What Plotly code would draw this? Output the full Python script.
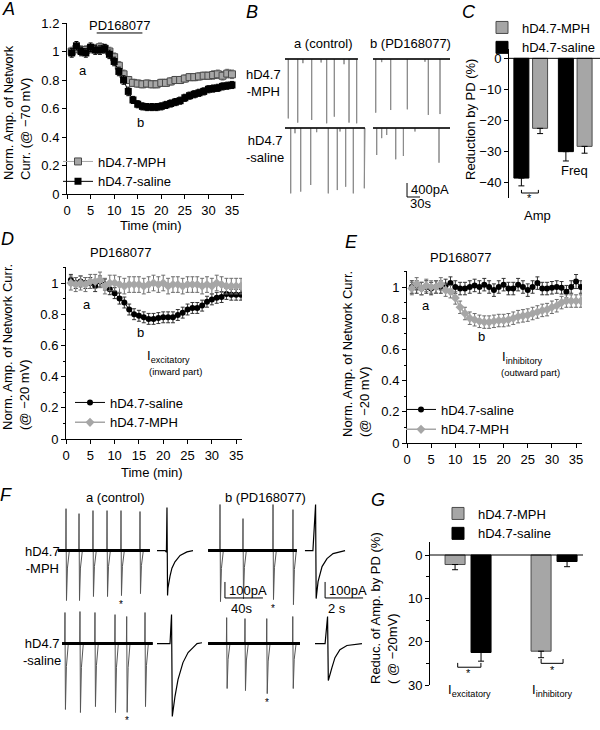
import plotly.graph_objects as go

W, H = 600, 730
FONT = "Liberation Sans, Arial, Helvetica, sans-serif"
BLK = "#000000"
GRY = "#a6a6a6"
GRY_EDGE = "#4a4a4a"
GRY_ERR = "#6e6e6e"
SPK = "#8a8a8a"

# ---------------- data ----------------
# Panel A (holding -70 mV)
A_TIME = list(range(1, 36))
A_MPH = [1.00, 1.02, 1.01, 1.01, 1.02, 1.02, 1.03, 1.02, 1.00, 0.96,
         0.90, 0.84, 0.80, 0.78, 0.775, 0.77, 0.775, 0.77, 0.77, 0.78,
         0.78, 0.79, 0.80, 0.80, 0.81, 0.82, 0.82, 0.825, 0.83, 0.83,
         0.835, 0.84, 0.83, 0.845, 0.84]
A_MPH_ERR = [0.03, 0.03, 0.03, 0.03, 0.03, 0.03, 0.03, 0.03, 0.03, 0.03,
             0.03, 0.03, 0.025, 0.025, 0.025, 0.025, 0.025, 0.025, 0.025, 0.025,
             0.025, 0.025, 0.025, 0.025, 0.025, 0.025, 0.025, 0.025, 0.025, 0.025,
             0.03, 0.03, 0.03, 0.03, 0.03]
A_SAL = [0.99, 1.04, 1.00, 0.99, 1.03, 1.01, 1.01, 1.02, 0.98, 0.93,
         0.86, 0.80, 0.72, 0.66, 0.63, 0.615, 0.61, 0.61, 0.61, 0.615,
         0.625, 0.635, 0.645, 0.655, 0.675, 0.69, 0.70, 0.71, 0.72, 0.735,
         0.74, 0.745, 0.755, 0.76, 0.765]
A_SAL_ERR = [0.03, 0.03, 0.03, 0.03, 0.03, 0.03, 0.03, 0.03, 0.03, 0.03,
             0.03, 0.03, 0.03, 0.025, 0.025, 0.025, 0.025, 0.025, 0.025, 0.025,
             0.025, 0.025, 0.025, 0.025, 0.025, 0.025, 0.025, 0.025, 0.025, 0.025,
             0.025, 0.025, 0.025, 0.025, 0.025]

# Panel D (excitatory, -20 mV)
D_TIME = list(range(1, 37))
D_SAL = [1.02, 1.00, 1.01, 1.00, 1.00, 0.98, 1.01, 0.99, 0.96, 0.935,
         0.90, 0.875, 0.83, 0.80, 0.79, 0.78, 0.77, 0.77, 0.775, 0.78,
         0.78, 0.78, 0.795, 0.81, 0.83, 0.84, 0.84, 0.855, 0.88, 0.895,
         0.905, 0.91, 0.93, 0.925, 0.925, 0.925]
D_SAL_ERR = [0.035, 0.035, 0.035, 0.035, 0.035, 0.035, 0.035, 0.035, 0.035, 0.035,
             0.035, 0.035, 0.035, 0.035, 0.035, 0.035, 0.035, 0.035, 0.035, 0.035,
             0.035, 0.035, 0.035, 0.035, 0.035, 0.035, 0.035, 0.035, 0.035, 0.035,
             0.035, 0.035, 0.035, 0.035, 0.035, 0.035]
D_MPH = [1.00, 0.99, 1.00, 0.99, 1.01, 1.01, 1.02, 0.98, 1.00, 1.00,
         0.99, 0.98, 0.99, 0.99, 0.99, 0.98, 0.99, 1.00, 0.99, 1.00,
         0.98, 0.99, 0.99, 0.98, 0.99, 0.99, 0.99, 0.98, 0.99, 0.98,
         1.00, 0.99, 0.98, 0.98, 0.98, 0.98]
D_MPH_ERR = [0.045, 0.045, 0.045, 0.045, 0.045, 0.045, 0.05, 0.05, 0.05, 0.05,
             0.05, 0.05, 0.05, 0.05, 0.05, 0.05, 0.05, 0.05, 0.05, 0.05,
             0.05, 0.05, 0.05, 0.05, 0.05, 0.05, 0.05, 0.05, 0.05, 0.05,
             0.05, 0.05, 0.05, 0.05, 0.05, 0.05]

# Panel E (inhibitory, -20 mV)
E_TIME = list(range(1, 37))
E_SAL = [1.00, 1.00, 0.99, 1.00, 0.99, 1.00, 1.00, 1.01, 1.025, 1.00,
         0.99, 0.99, 1.00, 1.01, 1.00, 1.015, 1.00, 0.98, 1.00, 1.015,
         0.99, 0.99, 1.015, 1.00, 0.98, 1.00, 1.025, 0.99, 0.99, 0.995,
         1.00, 0.995, 0.97, 1.00, 1.035, 1.00]
E_SAL_ERR = [0.04, 0.04, 0.04, 0.04, 0.04, 0.04, 0.04, 0.04, 0.04, 0.04,
             0.04, 0.04, 0.04, 0.04, 0.04, 0.04, 0.04, 0.04, 0.04, 0.04,
             0.04, 0.04, 0.04, 0.04, 0.04, 0.04, 0.04, 0.04, 0.04, 0.04,
             0.04, 0.04, 0.04, 0.04, 0.045, 0.04]
E_MPH = [0.99, 1.02, 0.99, 1.01, 1.00, 1.00, 1.02, 0.98, 0.97, 0.93,
         0.87, 0.83, 0.80, 0.79, 0.78, 0.775, 0.775, 0.78, 0.785, 0.785,
         0.79, 0.80, 0.81, 0.815, 0.82, 0.83, 0.84, 0.85, 0.855, 0.87,
         0.88, 0.90, 0.91, 0.91, 0.91, 0.91]
E_MPH_ERR = [0.04, 0.04, 0.04, 0.04, 0.04, 0.04, 0.04, 0.04, 0.04, 0.04,
             0.04, 0.04, 0.04, 0.04, 0.04, 0.04, 0.04, 0.04, 0.04, 0.04,
             0.04, 0.04, 0.04, 0.04, 0.04, 0.04, 0.04, 0.04, 0.04, 0.04,
             0.04, 0.04, 0.04, 0.04, 0.04, 0.04]

DRUG_ON, DRUG_OFF = 6.3, 16.0

# Panel C (reduction by PD, %)
C_GROUPS = [1, 2]
C_SAL = [-38.5, -30.0]
C_SAL_ERR = [2.5, 3.0]
C_MPH = [-22.5, -28.3]
C_MPH_ERR = [1.7, 2.2]

# Panel G (reduction of amplitude by PD, %)
G_GROUPS = [1, 2]
G_MPH = [2.2, 22.2]
G_MPH_ERR = [1.2, 1.5]
G_SAL = [22.5, 1.5]
G_SAL_ERR = [2.0, 1.2]

# Panel B traces (time s, amplitude pA of inward events)
B_A_MPH_T = [12.2, 34.0, 46.0, 66.3, 88.0, 100.9, 118.5, 141.0, 152.5, 170.2]
B_A_MPH_I = [-1700, -1820, -120, -1745, -100, -1840, -1650, -150, -1820, -1840]
B_B_MPH_T = [10.9, 24.7, 45.5, 83.9, 124.7, 132.4, 159.4]
B_B_MPH_I = [-1535, -90, -1460, -1440, -80, -1600, -1575]
B_A_SAL_T = [17.8, 27.7, 40.9, 64.0, 77.8, 104.6, 125.4, 131.7, 144.8, 162.4, 187.8]
B_A_SAL_I = [-1870, -150, -1820, -1630, -120, -1870, -1775, -100, -1680, -1870, -1725]
B_B_SAL_T = [13.2, 24.7, 36.3, 57.1, 74.8, 101.6, 157.1]
B_B_SAL_I = [-772, -290, -200, -895, -800, -100, -992]

# Panel F compressed traces (time s, outward / inward peaks pA)
F_A_MPH_T = [11.6, 25.3, 40.0, 54.8, 69.5, 89.5]
F_A_MPH_UP = [262, 231, 250, 250, 250, 244]
F_A_MPH_DN = [-312, -312, -287, -287, -281, -269]
F_B_MPH_T = [15.8, 40.0, 71.6, 92.6]
F_B_MPH_UP = [288, 200, 288, 256]
F_B_MPH_DN = [-319, -300, -306, -338]
F_A_SAL_T = [10.5, 26.3, 42.1, 63.2, 75.5, 94.8]
F_A_SAL_UP = [194, 200, 194, 181, 169, 194]
F_A_SAL_DN = [-412, -431, -394, -431, -430, -394]
F_B_SAL_T = [22.8, 42.1, 65.0, 92.4]
F_B_SAL_UP = [162, 156, 156, 169]
F_B_SAL_DN = [-281, -294, -313, -281]

# Panel F expanded single events (time s, pA relative to baseline)
FX_A_MPH_T = [0.105, 0.53, 0.60, 0.63, 0.66, 0.68, 0.79, 0.89, 1.05, 1.32, 1.68, 2.00]
FX_A_MPH_I = [0, 0, -10, 270, -280, -235, -160, -110, -70, -30, -8, 0]
FX_A_SAL_T = [0.105, 0.79, 0.87, 0.91, 1.05, 1.21, 1.47, 1.74, 2.00, 2.21, 2.47]
FX_A_SAL_I = [0, 0, 181, -456, -331, -225, -119, -56, -25, 0, 5]
FX_B_MPH_T = [0.26, 0.68, 0.82, 0.85, 0.95, 1.16, 1.42, 1.74, 2.37]
FX_B_MPH_I = [0, 0, 288, -300, -194, -100, -50, -19, 0]
FX_B_SAL_T = [0.79, 1.32, 1.45, 1.49, 1.68, 1.84, 2.10, 2.47, 3.26]
FX_B_SAL_I = [0, 0, 169, -231, -150, -88, -38, -12, 0]

B_SCALE_PA, B_SCALE_S = 400, 30
F_SCALE_PA, F_SCALE_S, F_SCALE_S_EXP = 100, 40, 2


# ---------------- helpers ----------------
def X(p):
    return p / W


def Y(p):
    return 1 - p / H


def style_axis(**kw):
    base = dict(showline=True, linecolor=BLK, linewidth=1, ticks="outside", ticklen=4,
                tickwidth=1, tickcolor=BLK, showgrid=False, zeroline=False,
                tickfont=dict(size=13, color=BLK, family=FONT), fixedrange=True)
    base.update(kw)
    return base


def hidden_axis(**kw):
    base = dict(visible=False, showgrid=False, zeroline=False, fixedrange=True)
    base.update(kw)
    return base


def spike_train(start, end, times, amps, base):
    xs, ys = [start], [base]
    for t, a in zip(times, amps):
        xs += [t, t, t]
        ys += [base, base + a, base]
    xs.append(end)
    ys.append(base)
    return xs, ys


def biphasic_train(start, end, times, ups, dns, base):
    xs, ys = [start], [base]
    for t, u, d in zip(times, ups, dns):
        xs += [t - 0.3, t, t + 0.5, t + 1.5, t + 3.5]
        ys += [base, base + u, base + d, base + 0.35 * d, base]
    xs.append(end)
    ys.append(base)
    return xs, ys


fig = go.Figure()


def line(xs, ys, xa, ya, color=BLK, width=1):
    fig.add_trace(go.Scatter(x=xs, y=ys, mode="lines", line=dict(color=color, width=width),
                             xaxis=xa, yaxis=ya, showlegend=False, hoverinfo="skip"))


# ---------------- Panel A ----------------
fig.add_trace(go.Scatter(
    x=A_TIME, y=A_MPH, name="hD4.7-MPH", mode="lines+markers", legend="legend",
    line=dict(color=GRY, width=1),
    marker=dict(symbol="square", size=7, color=GRY, line=dict(color=GRY_EDGE, width=1)),
    error_y=dict(type="data", array=A_MPH_ERR, color=GRY_ERR, thickness=1, width=2),
    xaxis="x", yaxis="y"))
fig.add_trace(go.Scatter(
    x=A_TIME, y=A_SAL, name="hD4.7-saline", mode="lines+markers", legend="legend",
    line=dict(color=BLK, width=1),
    marker=dict(symbol="square", size=7, color=BLK),
    error_y=dict(type="data", array=A_SAL_ERR, color=BLK, thickness=1, width=2),
    xaxis="x", yaxis="y"))

# ---------------- Panel D ----------------
fig.add_trace(go.Scatter(
    x=D_TIME, y=D_SAL, name="hD4.7-saline", mode="lines+markers", legend="legend2",
    line=dict(color=BLK, width=1), marker=dict(symbol="circle", size=6, color=BLK),
    error_y=dict(type="data", array=D_SAL_ERR, color="#333333", thickness=1, width=2),
    xaxis="x3", yaxis="y3"))
fig.add_trace(go.Scatter(
    x=D_TIME, y=D_MPH, name="hD4.7-MPH", mode="lines+markers", legend="legend2",
    line=dict(color=GRY, width=1.5), marker=dict(symbol="diamond", size=7, color=GRY),
    error_y=dict(type="data", array=D_MPH_ERR, color=GRY_ERR, thickness=1, width=2),
    xaxis="x3", yaxis="y3"))

# ---------------- Panel E ----------------
fig.add_trace(go.Scatter(
    x=E_TIME, y=E_SAL, name="hD4.7-saline", mode="lines+markers", legend="legend3",
    line=dict(color=BLK, width=1), marker=dict(symbol="circle", size=6, color=BLK),
    error_y=dict(type="data", array=E_SAL_ERR, color="#333333", thickness=1, width=2),
    xaxis="x4", yaxis="y4"))
fig.add_trace(go.Scatter(
    x=E_TIME, y=E_MPH, name="hD4.7-MPH", mode="lines+markers", legend="legend3",
    line=dict(color=GRY, width=1.5), marker=dict(symbol="diamond", size=7, color=GRY),
    error_y=dict(type="data", array=E_MPH_ERR, color=GRY_ERR, thickness=1, width=2),
    xaxis="x4", yaxis="y4"))

# ---------------- Panel C ----------------
fig.add_trace(go.Bar(
    x=C_GROUPS, y=C_MPH, name="hD4.7-MPH", legend="legend4", width=0.337, offset=0.04,
    marker=dict(color=GRY, line=dict(color=GRY_EDGE, width=1)),
    error_y=dict(type="data", symmetric=False, array=[0, 0], arrayminus=C_MPH_ERR,
                 color=BLK, thickness=1, width=3),
    xaxis="x2", yaxis="y2"))
fig.add_trace(go.Bar(
    x=C_GROUPS, y=C_SAL, name="hD4.7-saline", legend="legend4", width=0.337, offset=-0.38,
    marker=dict(color=BLK, line=dict(color=BLK, width=1)),
    error_y=dict(type="data", symmetric=False, array=[0, 0], arrayminus=C_SAL_ERR,
                 color=BLK, thickness=1, width=3),
    xaxis="x2", yaxis="y2"))
line([0.79, 0.79, 1.17, 1.17], [-42.3, -43.3, -43.3, -42.3], "x2", "y2")

# ---------------- Panel G ----------------
fig.add_trace(go.Bar(
    x=G_GROUPS, y=G_MPH, name="hD4.7-MPH", legend="legend5", width=0.233, offset=-0.267,
    marker=dict(color=GRY, line=dict(color=GRY_EDGE, width=1)),
    error_y=dict(type="data", symmetric=False, array=G_MPH_ERR, arrayminus=[0, 0],
                 color=BLK, thickness=1, width=3),
    xaxis="x5", yaxis="y5"))
fig.add_trace(go.Bar(
    x=G_GROUPS, y=G_SAL, name="hD4.7-saline", legend="legend5", width=0.233, offset=0.035,
    marker=dict(color=BLK, line=dict(color=BLK, width=1)),
    error_y=dict(type="data", symmetric=False, array=G_SAL_ERR, arrayminus=[0, 0],
                 color=BLK, thickness=1, width=3),
    xaxis="x5", yaxis="y5"))
line([0.88, 0.88, 1.15, 1.15], [24.9, 25.9, 25.9, 24.9], "x5", "y5")
line([1.85, 1.85, 2.105, 2.105], [24.0, 25.0, 25.0, 24.0], "x5", "y5")

# ---------------- Panel B traces ----------------
B_BASE_MPH, B_BASE_SAL = 4033, 2059
for xa, ya, t, i, base, s, e in [
    ("x6", "y6", B_A_MPH_T, B_A_MPH_I, B_BASE_MPH, 4.6, 173.0),
    ("x7", "y7", B_B_MPH_T, B_B_MPH_I, B_BASE_MPH, 4.6, 182.5),
    ("x6", "y6", B_A_SAL_T, B_A_SAL_I, B_BASE_SAL, 4.6, 189.5),
    ("x7", "y7", B_B_SAL_T, B_B_SAL_I, B_BASE_SAL, 4.6, 182.5),
]:
    xs, ys = spike_train(s, e, t, i, base)
    line(xs, ys, xa, ya, color=SPK, width=1)
    line([s, e], [base, base], xa, ya, color=BLK, width=1.6)
# scale bar B
BSX, BSY = 83.2, 86
line([BSX, BSX, BSX + B_SCALE_S], [BSY + B_SCALE_PA, BSY, BSY], "x7", "y7", width=1)

# ---------------- Panel F traces ----------------
F_BASE_MPH, F_BASE_SAL = 1090, 509
for xa, ya, t, u, d, base, s, e in [
    ("x8", "y8", F_A_MPH_T, F_A_MPH_UP, F_A_MPH_DN, F_BASE_MPH, 3.2, 100.0),
    ("x10", "y10", F_B_MPH_T, F_B_MPH_UP, F_B_MPH_DN, F_BASE_MPH, 3.2, 96.8),
    ("x8", "y8", F_A_SAL_T, F_A_SAL_UP, F_A_SAL_DN, F_BASE_SAL, 7.4, 103.0),
    ("x10", "y10", F_B_SAL_T, F_B_SAL_UP, F_B_SAL_DN, F_BASE_SAL, 3.2, 102.0),
]:
    xs, ys = biphasic_train(s, e, t, u, d, base)
    line(xs, ys, xa, ya, color="#555555", width=1)
    line([s, e], [base, base], xa, ya, color=BLK, width=3)
for xa, ya, t, i, base in [
    ("x9", "y9", FX_A_MPH_T, FX_A_MPH_I, F_BASE_MPH),
    ("x9", "y9", FX_A_SAL_T, FX_A_SAL_I, F_BASE_SAL),
    ("x11", "y11", FX_B_MPH_T, FX_B_MPH_I, F_BASE_MPH),
    ("x11", "y11", FX_B_SAL_T, FX_B_SAL_I, F_BASE_SAL),
]:
    line(t, [base + v for v in i], xa, ya, color=BLK, width=1.2)
FSY = 794
line([21, 21, 21 + F_SCALE_S], [FSY + F_SCALE_PA, FSY, FSY], "x10", "y10", width=1)
line([1.32, 1.32, 1.32 + F_SCALE_S_EXP], [FSY + F_SCALE_PA, FSY, FSY], "x11", "y11", width=1)

# ---------------- annotations ----------------
ann = []


def A_(text, x, y, xref="paper", yref="paper", size=13, **kw):
    d = dict(text=text, x=x, y=y, xref=xref, yref=yref, showarrow=False,
             xanchor="center", yanchor="middle",
             font=dict(size=size, color=BLK, family=FONT))
    d.update(kw)
    ann.append(d)


def P(text, xp, yp, size=13, **kw):
    A_(text, X(xp), Y(yp), size=size, **kw)


for letter, xp, yp in [("A", 8, 9), ("B", 252, 12), ("C", 469, 12), ("D", 7, 239),
                       ("E", 351, 242), ("F", 6, 495), ("G", 378, 500)]:
    P("<i>%s</i>" % letter, xp, yp, size=18)

# A
A_("PD168077", (DRUG_ON + DRUG_OFF) / 2, 1.185, "x", "y")
A_("a", 3.4, 0.87, "x", "y")
A_("b", 15.5, 0.505, "x", "y")
P("Time (min)", 151, 225)
P("Norm. Amp. of Network<br>Curr. (@ \u221270 mV)", 17, 113, textangle=-90, align="left")
# D
A_("PD168077", (DRUG_ON + DRUG_OFF) / 2, 1.1, "x3", "y3", yshift=15)
A_("a", 4.3, 0.865, "x3", "y3")
A_("b", 15.4, 0.68, "x3", "y3")
A_("I<sub>excitatory</sub>", 16.3, 0.53, "x3", "y3", xanchor="left")
A_("(inward part)", 22.6, 0.43, "x3", "y3", size=9.5)
P("Time (min)", 152, 472)
P("Norm. Amp. of Network Curr.<br>(@ \u221220 mV)", 16, 347, textangle=-90, align="left")
# E
A_("PD168077", (DRUG_ON + DRUG_OFF) / 2, 1.1, "x4", "y4", yshift=14)
A_("a", 3.9, 0.88, "x4", "y4")
A_("b", 15.5, 0.68, "x4", "y4")
A_("I<sub>inhibitory</sub>", 19.2, 0.55, "x4", "y4", xanchor="left")
A_("(outward part)", 25.5, 0.45, "x4", "y4", size=9.5)
P("Norm. Amp. of Network Curr.<br>(@ \u221220 mV)", 356, 354, textangle=-90, align="left")
# C
A_("Freq", 1.99, -36.2, "x2", "y2")
A_("Amp", 1.14, -45, "x2", "y2", yshift=-17)
A_("*", 0.98, -44.9, "x2", "y2", size=11)
P("Reduction by PD (%)", 470, 120, textangle=-90)
# G
A_("I<sub>excitatory</sub>", 1.02, 30, "x5", "y5", yshift=-5)
A_("I<sub>inhibitory</sub>", 1.98, 30, "x5", "y5", yshift=-5)
A_("*", 1.01, 27.2, "x5", "y5", size=11)
A_("*", 1.98, 26.6, "x5", "y5", size=11)
P("Reduc. of Amp. by PD (%)<br>( @ \u221220mV)", 384, 608, textangle=-90, align="left")
# B
P("a (control)", 323, 43)
P("b (PD168077)", 410, 43)
P("hD4.7<br>-MPH", 263, 83)
P("hD4.7<br>-saline", 265, 149)
P("%dpA" % B_SCALE_PA, 409, 190, xanchor="left")
P("%ds" % B_SCALE_S, 408, 204, xanchor="left")
# F
P("a (control)", 115, 497)
P("b (PD168077)", 265, 497)
P("hD4.7<br>-MPH", 42, 560)
P("hD4.7<br>-saline", 42, 652)
P("%dpA" % F_SCALE_PA, 227, 590, xanchor="left")
P("%ds" % F_SCALE_S, 241, 608)
P("%dpA" % F_SCALE_PA, 327, 590, xanchor="left")
P("%d s" % F_SCALE_S_EXP, 337, 608)
for xa, ya, t, d, base, k in [("x8", "y8", F_A_MPH_T, F_A_MPH_DN, F_BASE_MPH, 4),
                              ("x10", "y10", F_B_MPH_T, F_B_MPH_DN, F_BASE_MPH, 2),
                              ("x8", "y8", F_A_SAL_T, F_A_SAL_DN, F_BASE_SAL, 4),
                              ("x10", "y10", F_B_SAL_T, F_B_SAL_DN, F_BASE_SAL, 2)]:
    A_("*", t[k], base + d[k], xa, ya, size=10, yanchor="top", yshift=-1)

# ---------------- shapes ----------------
shapes = []
for xa, ya, yv in [("x", "y", 1.13), ("x3", "y3", 1.135), ("x4", "y4", 1.13)]:
    shapes.append(dict(type="line", xref=xa, yref=ya, x0=DRUG_ON, x1=DRUG_OFF, y0=yv, y1=yv,
                       line=dict(color=BLK, width=1)))
shapes.append(dict(type="line", xref="x2 domain", yref="y2", x0=0, x1=1, y0=0, y1=0,
                   line=dict(color=BLK, width=1)))
shapes.append(dict(type="line", xref="x5 domain", yref="y5", x0=0, x1=1, y0=0, y1=0,
                   line=dict(color=BLK, width=1)))

legend_common = dict(yanchor="top", bgcolor="rgba(0,0,0,0)",
                     font=dict(size=13, color=BLK, family=FONT), itemwidth=30,
                     tracegroupgap=0, traceorder="normal")

F_Y = [Y(725), Y(500)]
fig.update_layout(
    width=W, height=H, margin=dict(l=0, r=0, t=0, b=0, autoexpand=False),
    paper_bgcolor="white", plot_bgcolor="white",
    font=dict(family=FONT, size=13, color=BLK),
    barmode="overlay", showlegend=True,
    annotations=ann, shapes=shapes,
    legend=dict(x=X(58), y=Y(146.5), xanchor="left", **legend_common),
    legend2=dict(x=X(70), y=Y(387.5), xanchor="left", **legend_common),
    legend3=dict(x=X(401), y=Y(394.5), xanchor="left", **legend_common),
    legend4=dict(x=1.0, y=Y(12.5), xanchor="right", **legend_common),
    legend5=dict(x=X(438), y=Y(498.5), xanchor="left", **legend_common),
    xaxis=style_axis(domain=[X(67), X(244)], range=[0, 37.55],
                     tickvals=[0, 5, 10, 15, 20, 25, 30, 35], anchor="y"),
    yaxis=style_axis(domain=[Y(194), Y(23)], range=[0, 1.2],
                     tickvals=[0, 0.2, 0.4, 0.6, 0.8, 1.0, 1.2], anchor="x"),
    xaxis2=hidden_axis(domain=[X(509), X(600)], range=[0.51, 2.555], anchor="y2"),
    yaxis2=style_axis(domain=[Y(198.3), Y(49)], range=[-45, 3],
                      tickvals=[0, -10, -20, -30, -40], anchor="x2"),
    xaxis3=style_axis(domain=[X(66), X(242)], range=[0, 36.2],
                      tickvals=[0, 5, 10, 15, 20, 25, 30, 35], anchor="y3"),
    yaxis3=style_axis(domain=[Y(439), Y(267.4)], range=[0, 1.1],
                      tickvals=[0, 0.2, 0.4, 0.6, 0.8, 1.0], anchor="x3",
                      minor=dict(tickmode="linear", tick0=0, dtick=0.1, ticks="outside",
                                 ticklen=2, tickcolor=BLK)),
    xaxis4=style_axis(domain=[X(407), X(582)], range=[0, 36.23],
                      tickvals=[0, 5, 10, 15, 20, 25, 30, 35], anchor="y4"),
    yaxis4=style_axis(domain=[Y(443), Y(271.4)], range=[0, 1.1],
                      tickvals=[0, 0.2, 0.4, 0.6, 0.8, 1.0], anchor="x4",
                      minor=dict(tickmode="linear", tick0=0, dtick=0.1, ticks="outside",
                                 ticklen=2, tickcolor=BLK)),
    xaxis5=hidden_axis(domain=[X(430), X(583)], range=[0.558, 2.337], anchor="y5"),
    yaxis5=style_axis(domain=[Y(685), Y(542)], range=[30, -3],
                      tickvals=[0, 10, 20, 30], anchor="x5",
                      minor=dict(tickmode="linear", tick0=0, dtick=5, ticks="outside",
                                 ticklen=3, tickcolor=BLK)),
    xaxis6=hidden_axis(domain=[X(283), X(368)], range=[0, 196.35], anchor="y6"),
    yaxis6=hidden_axis(domain=[Y(200), Y(50)], range=[0, 4290], anchor="x6"),
    xaxis7=hidden_axis(domain=[X(371), X(456)], range=[0, 196.35], anchor="y7"),
    yaxis7=hidden_axis(domain=[Y(200), Y(50)], range=[0, 4290], anchor="x7"),
    xaxis8=hidden_axis(domain=[X(55), X(155)], range=[0, 105.3], anchor="y8"),
    yaxis8=hidden_axis(domain=F_Y, range=[0, 1406.25], anchor="x8"),
    xaxis9=hidden_axis(domain=[X(155), X(205)], range=[0, 2.63], anchor="y9"),
    yaxis9=hidden_axis(domain=F_Y, range=[0, 1406.25], anchor="x9"),
    xaxis10=hidden_axis(domain=[X(205), X(300)], range=[0, 100.0], anchor="y10"),
    yaxis10=hidden_axis(domain=F_Y, range=[0, 1406.25], anchor="x10"),
    xaxis11=hidden_axis(domain=[X(300), X(365)], range=[0, 3.42], anchor="y11"),
    yaxis11=hidden_axis(domain=F_Y, range=[0, 1406.25], anchor="x11"),
)

# remove the browser's default 8px page margin so the 600x730 figure fills the window
fig.write_html("out.html", config={"displayModeBar": False},
               post_script="document.body.style.margin='0px';")
